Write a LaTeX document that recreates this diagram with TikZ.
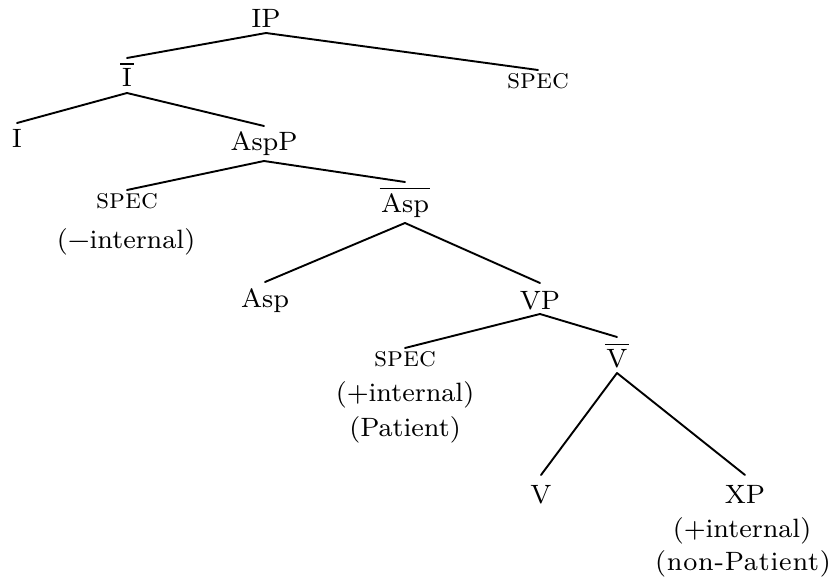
\documentclass[tikz,border=0pt]{standalone}
% Latin Modern at a small optical size, magnified, for a heavier, wider text face
\font\treefnt="[lmroman8-regular]:mapping=tex-text" at 26.5pt
\font\treewide="[lmroman8-regular]:mapping=tex-text;letterspace=3" at 26.5pt
\font\treesc="[lmromancaps10-regular]:mapping=tex-text" at 28.5pt
\newcommand\treefont{\treefnt}
\newcommand\spec{{\treesc spec}}
% X-bar label: a rule set a little above the category name
\newcommand\barcat[1]{\vbox{\hrule height 1.6pt\kern 3.8pt\hbox{\kern1.5pt#1\kern1.5pt}}}
\tikzset{
  cat/.style={inner sep=0pt, outer sep=0pt, anchor=base, font=\treefont,
              text height=25pt, text depth=5pt},
  note/.style={inner sep=0pt, outer sep=0pt, anchor=base, font=\treefont},
  branch/.style={line width=1.9pt, line cap=round}
}
\begin{document}
\begin{tikzpicture}[x=1pt, y=-1pt]
\useasboundingbox (0,0) rectangle (836,583);

% categories (positions are x-centre, baseline)
\node[cat]                                   (ip)     at (266,28)  {IP};
\node[cat, text height=29pt, text depth=6pt] (ibar)   at (127,87)  {\barcat{I}};
\node[cat, text height=19pt]                 (specA)  at (538,89)  {\spec};
\node[cat]                                   (i)      at (17,148)  {I};
\node[cat, text depth=10pt]                  (aspp)   at (264,151) {AspP};
\node[cat, text height=19pt]                 (specB)  at (127,209) {\spec};
\node[note]                                  (specBn) at (126,248) {(\char"2212 internal)};
\node[cat, text height=30pt, text depth=11pt](aspbar) at (405,212) {\barcat{Asp}};
\node[cat]                                   (asp)    at (265,307) {Asp};
\node[cat, text height=26pt]                 (vp)     at (540,309) {VP};
\node[cat, text height=18pt]                 (specC)  at (405,366) {\spec};
\node[note]                                  (specCn) at (405,401) {(+internal)};
\node[note]                                  (specCp) at (405,436) {(Patient)};
\node[cat, text height=30pt, text depth=6pt] (vbar)   at (617,367) {\barcat{V}};
\node[cat, text height=28pt]                 (v)      at (541,503) {V};
\node[cat, text height=28pt]                 (xp)     at (745,503) {XP};
\node[note]                                  (xpn)    at (742,537) {(+internal)};
\node[note, font=\treewide]                  (xpp)    at (743,570) {(non-Patient)};

% branches
\draw[branch] (ip.south)     -- (ibar.north);
\draw[branch] (ip.south)     -- (specA.north);
\draw[branch] (ibar.south)   -- (i.north);
\draw[branch] (ibar.south)   -- (aspp.north);
\draw[branch] (aspp.south)   -- (specB.north);
\draw[branch] (aspp.south)   -- (aspbar.north);
\draw[branch] (aspbar.south) -- (asp.north);
\draw[branch] (aspbar.south) -- (vp.north);
\draw[branch] (vp.south)     -- (specC.north);
\draw[branch] (vp.south)     -- (vbar.north);
\draw[branch] (vbar.south)   -- (v.north);
\draw[branch] (vbar.south)   -- (xp.north);
\end{tikzpicture}
\end{document}
